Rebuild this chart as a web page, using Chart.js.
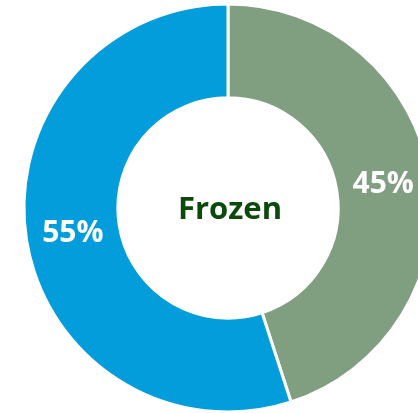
<!DOCTYPE html>
<html>
<head>
<meta charset="utf-8">
<script src="https://cdn.jsdelivr.net/npm/chart.js@4"></script>
<style>
    html, body { margin: 0; padding: 0; background: #fff; overflow: hidden; }
    .wrap { position: relative; width: 456px; height: 416px; }
</style>
</head>
<body>
<div class="wrap"><canvas id="donut"></canvas></div>
<script>
const labels = ['Fresh', 'Frozen'];
const shares = [45, 55];
const colours = ['#809e80', '#039ddb'];
const centreText = 'Frozen';

// draws the % labels on each slice and the word in the hole
const labelPlugin = {
    id: 'labelPlugin',
    afterDatasetsDraw(chart) {
        const ctx = chart.ctx;
        const meta = chart.getDatasetMeta(0);
        ctx.save();
        ctx.textAlign = 'center';
        ctx.textBaseline = 'middle';
        ctx.fillStyle = '#ffffff';
        ctx.font = 'bold 30px "Open Sans"';
        meta.data.forEach((arc, i) => {
            const p = arc.getCenterPoint();
            ctx.fillText(shares[i] + '%', p.x, p.y + 1);
        });
        const area = chart.chartArea;
        ctx.fillStyle = '#0b4a0b';
        ctx.font = 'bold 31px "Open Sans"';
        ctx.fillText(centreText, (area.left + area.right) / 2 + 2, (area.top + area.bottom) / 2 + 2);
        ctx.restore();
    }
};

function renderChart() {
    const ctx = document.getElementById('donut').getContext('2d');
    new Chart(ctx, {
        type: 'doughnut',
        data: {
            labels: labels,
            datasets: [{
                data: shares,
                backgroundColor: colours,
                borderColor: '#ffffff',
                borderWidth: 3
            }]
        },
        options: {
            responsive: true,
            maintainAspectRatio: false,
            animation: false,
            cutout: '54%',
            layout: { padding: { top: 2.5, bottom: 2.5, left: 0, right: 0 } },
            plugins: {
                legend: { display: false },
                tooltip: { enabled: false }
            }
        },
        plugins: [labelPlugin]
    });
}
renderChart();
</script>
</body>
</html>
